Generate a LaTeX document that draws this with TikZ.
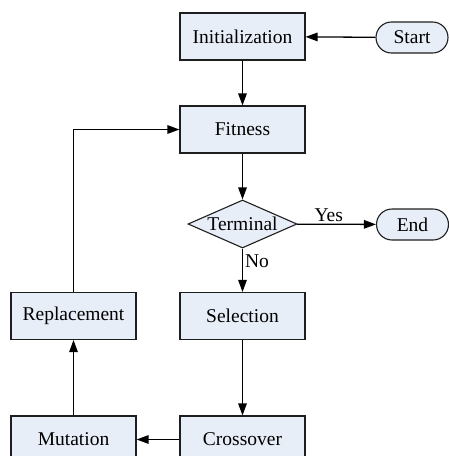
\documentclass[tikz,border=0pt]{standalone}
\usepackage{fontspec}
\setmainfont{Liberation Serif}
\usetikzlibrary{arrows.meta,shapes.geometric,calc}
\definecolor{boxfill}{RGB}{232,238,248}
\definecolor{boxdraw}{RGB}{30,30,30}
\begin{document}
\begin{tikzpicture}[x=1pt,y=-1pt,
  font=\fontsize{19.5}{22}\selectfont,
  procbox/.style={draw=boxdraw,fill=boxfill,line width=1.1pt,minimum width=125pt,minimum height=47pt,inner sep=0pt},
  termbox/.style={draw=boxdraw,fill=boxfill,line width=1.1pt,rounded corners=15.5pt,minimum width=72pt,minimum height=31pt,inner sep=0pt},
  decbox/.style={draw=boxdraw,fill=boxfill,line width=1.1pt,diamond,aspect=2.27,minimum width=109pt,minimum height=48pt,inner sep=0pt},
  flow/.style={line width=1.3pt,-{Triangle[length=12pt,width=8.5pt]}},
  lbl/.style={inner sep=2pt}]
\useasboundingbox (0,0) rectangle (449,456);
\begin{scope}
\clip (0,0) rectangle (449,456);
\node[procbox] (init) at (242.5,36.5) {Initialization};
\node[termbox] (start) at (412,37.5) {Start};
\node[procbox] (fit) at (242.5,129.5) {Fitness};
\node[decbox] (term) at (242.5,224) {Terminal};
\node[termbox] (end) at (412.5,224.5) {End};
\node[procbox] (repl) at (73.5,316) {Replacement};
\node[procbox] (sel) at (242.5,316) {Selection};
\node[procbox] (mut) at (73.5,439.5) {Mutation};
\node[procbox] (cross) at (242.5,439.5) {Crossover};
\draw[flow] (start) -- (init);
\draw[flow] (init) -- (fit);
\draw[flow] (fit) -- (term);
\draw[flow] (term) -- node[lbl,above,pos=0.4] {Yes} (end);
\draw[flow] (term) -- node[lbl,right,pos=0.3] {No} (sel);
\draw[flow] (sel) -- (cross);
\draw[flow] (cross) -- (mut);
\draw[flow] (mut) -- (repl);
\draw[flow] (repl.north) |- (fit.west);
\end{scope}
\end{tikzpicture}
\end{document}
